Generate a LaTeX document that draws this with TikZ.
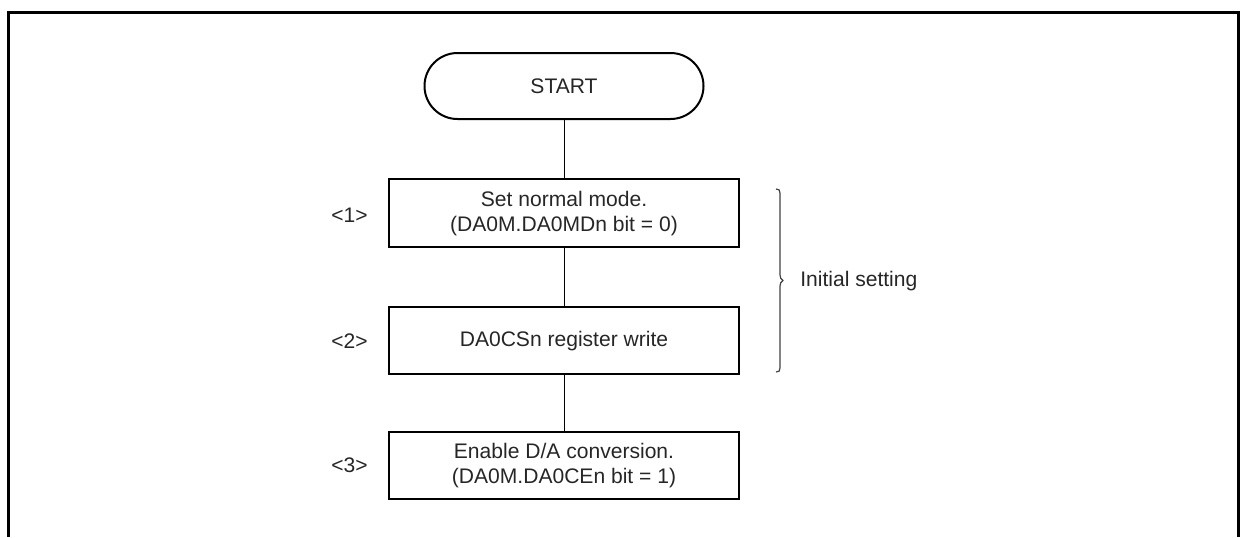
\documentclass[tikz,border=0pt]{standalone}
\usepackage{fontspec}
\setmainfont{Liberation Sans}
\begin{document}
\begin{tikzpicture}[x=0.75pt,y=-0.75pt,
  every node/.style={font=\fontsize{15.8}{18.75}\selectfont, text=black!85},
  stepbox/.style={draw=black, line width=1.6pt, minimum width=262.5pt, minimum height=51pt, align=center, inner sep=0pt},
  term/.style={draw=black, line width=1.5pt, rounded corners=24.75pt, minimum width=209.25pt, minimum height=49.5pt, inner sep=0pt},
  conn/.style={draw=black, line width=0.75pt},
  tag/.style={inner sep=0pt}]
\useasboundingbox (0,0) rectangle (1241,537);
% outer frame
\draw[line width=2.25pt] (8.5,537) -- (8.5,12.5) -- (1238.5,12.5) -- (1238.5,537);
% nodes
\node[term] (start) at (564,86) {START};
\node[stepbox, minimum height=51pt] (b1) at (564,213.3) {Set normal mode.\\(DA0M.DA0MDn bit = 0)};
\node[stepbox, minimum height=50.25pt] (b2) at (564,340.7) {DA0CSn register write};
\node[stepbox, minimum height=50.5pt] (b3) at (564,465.3) {Enable D/A conversion.\\(DA0M.DA0CEn bit = 1)};
\node[tag] (l1) at (349.5,215) {<1>};
\node[tag] (l2) at (349.5,341) {<2>};
\node[tag] (l3) at (349.5,465) {<3>};
% connectors
\draw[conn] (start.south) -- (b1.north);
\draw[conn] (b1.south) -- (b2.north);
\draw[conn] (b2.south) -- (b3.north);
% brace
\draw[line width=0.9pt, black!75, line join=round]
  (776,189) .. controls (779,189) and (780,190) .. (780,193)
  -- (780,275) .. controls (780,278) and (781,279) .. (783,280.5)
  .. controls (781,282) and (780,283) .. (780,286)
  -- (780,368) .. controls (780,371) and (779,372) .. (776,372);
\node[tag, anchor=west] (init) at (800,281) {Initial setting};
\end{tikzpicture}
\end{document}
